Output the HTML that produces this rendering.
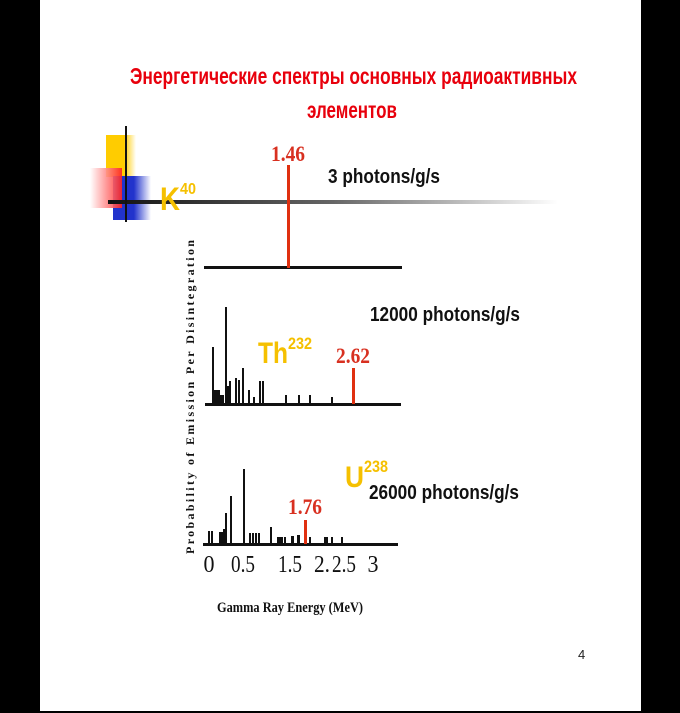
<!DOCTYPE html>
<html><head><meta charset="utf-8"><style>html,body{margin:0;padding:0;background:#000}svg{display:block}</style></head>
<body>
<svg width="680" height="713" viewBox="0 0 680 713" xmlns="http://www.w3.org/2000/svg">
<defs>
<linearGradient id="hl" x1="0" x2="1"><stop offset="0" stop-color="#111"/><stop offset="0.5" stop-color="#666"/><stop offset="1" stop-color="#fff"/></linearGradient>
<linearGradient id="rg" x1="1" x2="0"><stop offset="0" stop-color="#f22"/><stop offset="1" stop-color="#fff"/></linearGradient>
<linearGradient id="bg" x1="0" x2="1"><stop offset="0.55" stop-color="#2233cc"/><stop offset="1" stop-color="#fff"/></linearGradient>
<linearGradient id="yg" x1="0" x2="1"><stop offset="0.6" stop-color="#ffcc00"/><stop offset="1" stop-color="#fff"/></linearGradient>
</defs>
<rect x="0" y="0" width="680" height="713" fill="#000"/>
<rect x="40" y="0" width="601" height="711" fill="#fff"/>
<g font-family="Liberation Sans, sans-serif" font-weight="bold" fill="#e8000c">
<text x="130" y="84" font-size="23" textLength="447" lengthAdjust="spacingAndGlyphs">Энергетические спектры  основных радиоактивных</text>
<text x="307" y="118" font-size="23" textLength="90" lengthAdjust="spacingAndGlyphs">элементов</text>
</g>
<rect x="106" y="135" width="30" height="42" fill="url(#yg)"/>
<rect x="113" y="176" width="38" height="44" fill="url(#bg)"/>
<rect x="90" y="168" width="32" height="40" fill="url(#rg)" opacity="0.9"/>
<rect x="108" y="200" width="450" height="4" fill="url(#hl)"/>
<rect x="125" y="126" width="2" height="96" fill="#111"/>
<text x="160" y="210" font-family="Liberation Sans, sans-serif" font-weight="bold" font-size="32" fill="#f5c000" textLength="20" lengthAdjust="spacingAndGlyphs">K</text>
<text x="180" y="194" font-family="Liberation Sans, sans-serif" font-weight="bold" font-size="16" fill="#f5c000" textLength="16" lengthAdjust="spacingAndGlyphs">40</text>
<rect x="204" y="266" width="198" height="3" fill="#111"/>
<rect x="287" y="165" width="3" height="103" fill="#e03010"/>
<text x="288" y="161" text-anchor="middle" font-family="Liberation Serif, serif" font-weight="bold" font-size="22" fill="#d83020" textLength="34" lengthAdjust="spacingAndGlyphs">1.46</text>
<text x="328" y="183" font-family="Liberation Sans, sans-serif" font-weight="bold" font-size="20" fill="#111" textLength="112" lengthAdjust="spacingAndGlyphs">3 photons/g/s</text>
<rect x="205" y="403" width="196" height="3" fill="#111"/>
<g fill="#111">
<rect x="212" y="347" width="2" height="57"/><rect x="214" y="390" width="2" height="14"/><rect x="216" y="390" width="2" height="14"/><rect x="218" y="390" width="2" height="14"/>
<rect x="220" y="395" width="2" height="9"/><rect x="222" y="395" width="2" height="9"/>
<rect x="225" y="307" width="2" height="97"/><rect x="227" y="386" width="2" height="18"/><rect x="229" y="381" width="2" height="23"/>
<rect x="235" y="378" width="2" height="26"/><rect x="238" y="380" width="2" height="24"/><rect x="242" y="368" width="2" height="36"/>
<rect x="248" y="390" width="2" height="14"/><rect x="253" y="397" width="2" height="7"/>
<rect x="259" y="381" width="2" height="23"/><rect x="262" y="381" width="2" height="23"/>
<rect x="285" y="395" width="2" height="9"/><rect x="298" y="395" width="2" height="9"/><rect x="309" y="395" width="2" height="9"/><rect x="331" y="397" width="2" height="7"/>
</g>
<rect x="352" y="368" width="3" height="36" fill="#e03010"/>
<text x="353" y="363" text-anchor="middle" font-family="Liberation Serif, serif" font-weight="bold" font-size="22" fill="#d83020" textLength="34" lengthAdjust="spacingAndGlyphs">2.62</text>
<text x="258" y="363" font-family="Liberation Sans, sans-serif" font-weight="bold" font-size="30" fill="#f5c000" textLength="30" lengthAdjust="spacingAndGlyphs">Th</text>
<text x="288" y="349" font-family="Liberation Sans, sans-serif" font-weight="bold" font-size="17" fill="#f5c000" textLength="24" lengthAdjust="spacingAndGlyphs">232</text>
<text x="370" y="321" font-family="Liberation Sans, sans-serif" font-weight="bold" font-size="20" fill="#111" textLength="150" lengthAdjust="spacingAndGlyphs">12000 photons/g/s</text>
<rect x="203" y="543" width="195" height="3" fill="#111"/>
<g fill="#111">
<rect x="208" y="531" width="2" height="13"/><rect x="211" y="531" width="2" height="13"/>
<rect x="219" y="532" width="2" height="12"/><rect x="221" y="532" width="2" height="12"/><rect x="223" y="529" width="2" height="15"/>
<rect x="225" y="513" width="2" height="31"/><rect x="230" y="496" width="2" height="48"/><rect x="243" y="469" width="2" height="75"/>
<rect x="249" y="533" width="2" height="11"/><rect x="252" y="533" width="2" height="11"/><rect x="255" y="533" width="2" height="11"/><rect x="258" y="533" width="2" height="11"/>
<rect x="270" y="527" width="2" height="17"/>
<rect x="277" y="537" width="2" height="7"/><rect x="279" y="537" width="2" height="7"/><rect x="281" y="537" width="2" height="7"/><rect x="284" y="537" width="2" height="7"/>
<rect x="291" y="536" width="2" height="8"/><rect x="292" y="536" width="2" height="8"/><rect x="297" y="535" width="2" height="9"/><rect x="298" y="535" width="2" height="9"/>
<rect x="309" y="537" width="2" height="7"/><rect x="324" y="537" width="2" height="7"/><rect x="326" y="537" width="2" height="7"/><rect x="331" y="537" width="2" height="7"/><rect x="341" y="537" width="2" height="7"/>
</g>
<rect x="304" y="520" width="3" height="24" fill="#e03010"/>
<text x="305" y="514" text-anchor="middle" font-family="Liberation Serif, serif" font-weight="bold" font-size="22" fill="#d83020" textLength="34" lengthAdjust="spacingAndGlyphs">1.76</text>
<text x="345" y="487" font-family="Liberation Sans, sans-serif" font-weight="bold" font-size="30" fill="#f5c000" textLength="19" lengthAdjust="spacingAndGlyphs">U</text>
<text x="364" y="472" font-family="Liberation Sans, sans-serif" font-weight="bold" font-size="17" fill="#f5c000" textLength="24" lengthAdjust="spacingAndGlyphs">238</text>
<text x="369" y="499" font-family="Liberation Sans, sans-serif" font-weight="bold" font-size="20" fill="#111" textLength="150" lengthAdjust="spacingAndGlyphs">26000 photons/g/s</text>
<g font-family="Liberation Serif, serif" font-size="24" fill="#111" text-anchor="middle">
<text x="209" y="572" textLength="11" lengthAdjust="spacingAndGlyphs">0</text>
<text x="243" y="572" textLength="24" lengthAdjust="spacingAndGlyphs">0.5</text>
<text x="290" y="572" textLength="24" lengthAdjust="spacingAndGlyphs">1.5</text>
<text x="322" y="572" textLength="16" lengthAdjust="spacingAndGlyphs">2.</text>
<text x="344" y="572" textLength="24" lengthAdjust="spacingAndGlyphs">2.5</text>
<text x="373" y="572" textLength="11" lengthAdjust="spacingAndGlyphs">3</text>
</g>
<text x="290" y="612" text-anchor="middle" font-family="Liberation Serif, serif" font-weight="bold" font-size="15" fill="#111" textLength="146" lengthAdjust="spacingAndGlyphs">Gamma Ray Energy (MeV)</text>
<text transform="translate(194,397) rotate(-90)" text-anchor="middle" font-family="Liberation Serif, serif" font-weight="bold" font-size="12" fill="#111" textLength="314" lengthAdjust="spacing">Probability of Emission Per Disintegration</text>
<text x="578" y="659" font-family="Liberation Sans, sans-serif" font-size="13" fill="#222">4</text>
</svg>
</body></html>
